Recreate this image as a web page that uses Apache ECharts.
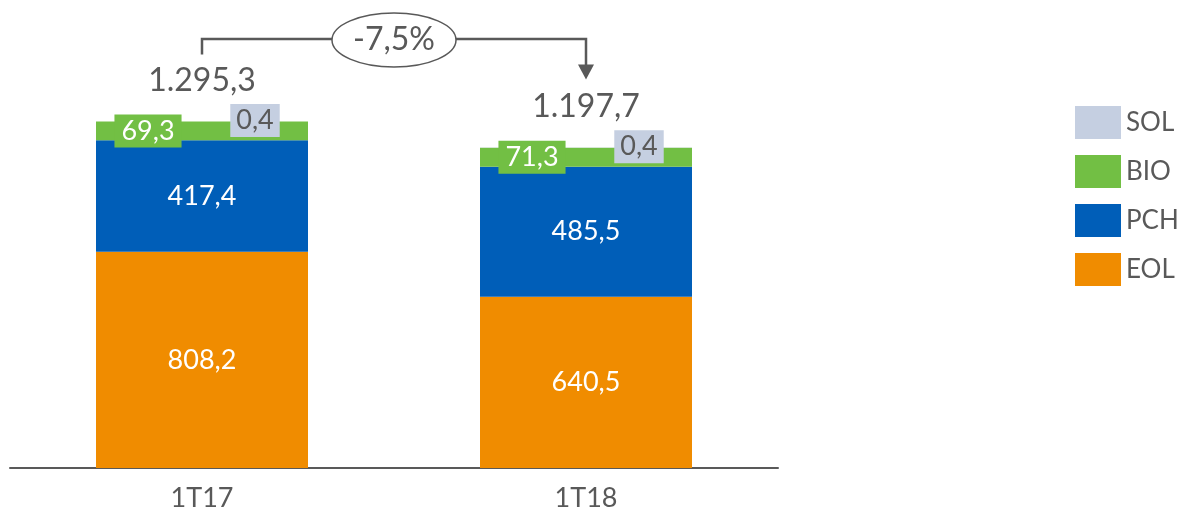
<!DOCTYPE html>
<html>
<head>
<meta charset="utf-8">
<script src="https://cdn.jsdelivr.net/npm/echarts@6/dist/echarts.min.js"></script>
<style>
  html, body { margin: 0; padding: 0; background: #fff; }
  #chart { width: 1181px; height: 512px; }
</style>
</head>
<body>
<div id="chart"></div>
<script>
  const categories = ["1T17", "1T18"];
  const eolData = [808.2, 640.5];
  const pchData = [417.4, 485.5];
  const bioData = [69.3, 71.3];
  const solData = [0.4, 0.4];
  const totals = [1295.3, 1197.7];
  const changeText = "-7,5%";

  const textGray = "#595959";
  const fontFamily = "Lato";
  const fmt = v => String(v).replace(".", ",");
  const fmtTotal = v => {
    const parts = v.toFixed(1).split(".");
    return parts[0].replace(/\B(?=(\d{3})+(?!\d))/g, ".") + "," + parts[1];
  };

  const barWidth = 212;
  const stackSeries = (name, data, color, label) => ({
    name: name,
    type: "bar",
    stack: "total",
    barWidth: barWidth,
    data: data,
    itemStyle: { color: color },
    label: Object.assign({
      show: true,
      position: "inside",
      fontFamily: fontFamily,
      fontSize: 27,
      color: "#fff",
      formatter: p => fmt(p.value),
    }, label || {}),
  });

  const chart = echarts.init(document.getElementById("chart"));
  const option = {
    animation: false,
    textStyle: { fontFamily: fontFamily },
    grid: { left: 10, right: 403, top: 40, bottom: 44 },
    legend: {
      data: ["SOL", "BIO", "PCH", "EOL"],
      orient: "vertical",
      left: 1070,
      top: 101,
      itemWidth: 46,
      itemHeight: 33,
      itemGap: 16,
      icon: "rect",
      textStyle: { fontFamily: fontFamily, fontSize: 26, color: textGray },
    },
    xAxis: {
      type: "category",
      data: categories,
      axisLine: { lineStyle: { color: textGray, width: 2 } },
      axisTick: { show: false },
      axisLabel: { fontFamily: fontFamily, fontSize: 27, color: textGray, margin: 17 },
    },
    yAxis: { type: "value", min: 0, max: 1600, show: false, splitLine: { show: false } },
    series: [
      stackSeries("EOL", eolData, "#F08C00"),
      stackSeries("PCH", pchData, "#005EB8"),
      stackSeries("BIO", bioData, "#72BF44", {
        offset: [-54, 0],
        backgroundColor: "#72BF44",
        padding: [3, 7],
        lineHeight: 27,
      }),
      stackSeries("SOL", solData, "#C5CFE1", {
        offset: [53, -1],
        color: textGray,
        backgroundColor: "#C5CFE1",
        padding: [3, 6],
        lineHeight: 27,
      }),
      {
        name: "Total",
        type: "bar",
        barWidth: barWidth,
        barGap: "-100%",
        z: 1,
        silent: true,
        data: totals,
        itemStyle: { color: "rgba(0,0,0,0)" },
        label: {
          show: true,
          position: "top",
          distance: 25,
          fontFamily: fontFamily,
          fontSize: 32,
          color: textGray,
          formatter: p => fmtTotal(p.value),
        },
      },
    ],
  };
  chart.setOption(option);

  // bracket with change bubble, anchored to the totals
  const p0 = chart.convertToPixel({ xAxisIndex: 0, yAxisIndex: 0 }, [0, totals[0]]);
  const p1 = chart.convertToPixel({ xAxisIndex: 0, yAxisIndex: 0 }, [1, totals[1]]);
  const lineY = 39;
  const cx = (p0[0] + p1[0]) / 2;
  const rx = 62, ry = 27;
  const lineStyle = { stroke: textGray, lineWidth: 2.5, fill: null };
  chart.setOption({
    graphic: [
      {
        type: "polyline",
        shape: { points: [[p0[0], p0[1] - 67], [p0[0], lineY], [cx - rx, lineY]] },
        style: lineStyle,
      },
      {
        type: "polyline",
        shape: { points: [[cx + rx, lineY], [p1[0], lineY], [p1[0], p1[1] - 82]] },
        style: lineStyle,
      },
      {
        type: "polygon",
        shape: { points: [[p1[0] - 8, p1[1] - 83], [p1[0] + 8, p1[1] - 83], [p1[0], p1[1] - 68]] },
        style: { fill: textGray },
      },
      {
        type: "ellipse",
        shape: { cx: cx, cy: lineY + 1, rx: rx, ry: ry },
        style: { fill: "#fff", stroke: textGray, lineWidth: 1.5 },
      },
      {
        type: "text",
        x: cx,
        y: lineY + 1,
        style: {
          text: changeText,
          fontFamily: fontFamily,
          fontSize: 32,
          fill: textGray,
          align: "center",
          verticalAlign: "middle",
        },
      },
    ],
  });
</script>
</body>
</html>
